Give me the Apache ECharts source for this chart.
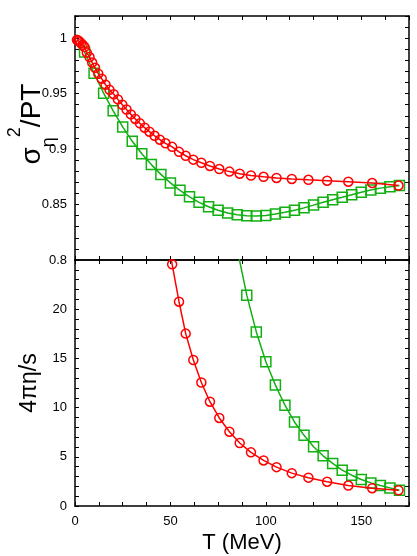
<!DOCTYPE html>
<html>
<head>
<meta charset="utf-8">
<script src="https://cdn.jsdelivr.net/npm/echarts@6/dist/echarts.min.js"></script>
<style>
html, body { margin: 0; padding: 0; background: #fff; }
#chart { width: 417px; height: 556px; }
</style>
</head>
<body>
<div id="chart"></div>
<script>
// temperatures (MeV) of the red (circle) points
const redT = [1.0, 1.6, 2.3, 3.1, 4.0, 5.0, 6.2, 7.6, 9.0, 10.5, 12.2, 14.0, 16.0, 18.1,
    20.3, 22.5, 24.8, 27.0, 29.3, 31.6, 34.0, 36.5, 39.0, 41.7, 44.5, 47.4, 50.9, 54.5,
    58.0, 62.0, 66.2, 70.7, 75.6, 80.9, 86.3, 92.2, 98.8, 105.6, 113.6, 122.3, 132.1,
    143.2, 155.7, 169.5]
// sigma_eta^2 / PT, red
const redRatio = [0.9985, 0.998, 0.997, 0.9955, 0.994, 0.992, 0.987, 0.983, 0.978, 0.9733,
    0.968, 0.9635, 0.958, 0.9534, 0.9495, 0.9448, 0.940, 0.9357, 0.9313, 0.9272, 0.9232,
    0.9193, 0.9157, 0.912, 0.9085, 0.9052, 0.902, 0.8975, 0.894, 0.8905, 0.8877, 0.8848,
    0.882, 0.8797, 0.8778, 0.8762, 0.875, 0.874, 0.8731, 0.8723, 0.8715, 0.8706, 0.8694,
    0.8671]
// 4 pi eta / s, red (null = above the panel)
const redEta = [null, null, null, null, null, null, null, null, null, null, null, null, null,
    null, null, null, null, null, null, null, null, null, null, null, null, 28.4, 24.56,
    20.76, 17.52, 14.84, 12.55, 10.6, 8.95, 7.55, 6.4, 5.45, 4.63, 3.95, 3.34, 2.88, 2.47,
    2.08, 1.81, 1.60]

// temperatures of the green (square) points
const greenT = [5, 10, 15, 20, 25, 30, 35, 40, 45, 50, 55, 60, 65, 70, 75, 80, 85, 90, 95,
    100, 105, 110, 115, 120, 125, 130, 135, 140, 145, 150, 155, 160, 165, 170]
const greenRatio = [0.9875, 0.9684, 0.9504, 0.9345, 0.920, 0.907, 0.8958, 0.886, 0.8772,
    0.8695, 0.8628, 0.857, 0.852, 0.848, 0.8448, 0.8423, 0.8407, 0.8398, 0.8396, 0.8402,
    0.8414, 0.843, 0.8449, 0.847, 0.8495, 0.852, 0.8543, 0.8565, 0.8588, 0.861, 0.8632,
    0.8648, 0.866, 0.8671]
const greenEta = [null, null, null, null, null, null, null, null, null, null, null, null,
    null, null, null, null, 26.1, 21.43, 17.69, 14.66, 12.29, 10.24, 8.54, 7.18, 6.02, 5.10,
    4.33, 3.64, 3.13, 2.69, 2.35, 2.08, 1.84, 1.60]

const xTickLabels = [0, 50, 100, 150]
const ratioTickLabels = [0.8, 0.85, 0.9, 0.95, 1]
const etaTickLabels = [0, 5, 10, 15, 20]

const RED = '#ff0000'
const GREEN = '#12b012'
const FONT = 'Liberation Sans'

function pairs(xs, ys) {
    return xs.map((x, i) => [x, ys[i]]).filter(p => p[1] !== null)
}

function near(v, list) {
    return list.some(t => Math.abs(t - v) < 1e-6)
}

function xAxis(gridIndex, position, labels) {
    return {
        type: 'value',
        gridIndex: gridIndex,
        position: position,
        min: 0,
        max: 175,
        interval: 12.5,
        axisLine: { show: true, onZero: false, lineStyle: { color: '#000', width: 1.5 } },
        axisTick: { show: true, inside: true, length: 4, lineStyle: { color: '#000', width: 1 } },
        axisLabel: {
            show: labels,
            color: '#000',
            fontFamily: FONT,
            fontSize: 13,
            margin: 9,
            formatter: v => near(v, xTickLabels) ? String(v) : ''
        },
        splitLine: { show: false }
    }
}

function yAxis(gridIndex, position, min, max, interval, labelList, labels) {
    return {
        type: 'value',
        gridIndex: gridIndex,
        position: position,
        min: min,
        max: max,
        interval: interval,
        axisLine: { show: true, onZero: false, lineStyle: { color: '#000', width: 1.5 } },
        axisTick: { show: true, inside: true, length: 4, lineStyle: { color: '#000', width: 1 } },
        axisLabel: {
            show: labels,
            color: '#000',
            fontFamily: FONT,
            fontSize: 13,
            margin: 8,
            formatter: v => near(v, labelList) ? String(+v.toFixed(2)) : ''
        },
        splitLine: { show: false }
    }
}

function lineSeries(xi, yi, data, color, symbol, size) {
    return {
        type: 'line',
        xAxisIndex: xi,
        yAxisIndex: yi,
        data: data,
        clip: true,
        symbol: symbol,
        symbolSize: size,
        showAllSymbol: true,
        lineStyle: { color: color, width: 1.5 },
        itemStyle: { color: 'rgba(0,0,0,0)', borderColor: color, borderWidth: 1.5 },
        animation: false,
        z: color === RED ? 3 : 2
    }
}

const chart = echarts.init(document.getElementById('chart'))

const xTop = xAxis(0, 'bottom', false)
const xTopMirror = xAxis(0, 'top', false)
const xBottom = xAxis(1, 'bottom', true)
xBottom.name = 'T (MeV)'
xBottom.nameLocation = 'middle'
xBottom.nameGap = 26
xBottom.nameTextStyle = { fontFamily: FONT, fontSize: 22, color: '#000' }
const xBottomMirror = xAxis(1, 'top', false)

const yTop = yAxis(0, 'left', 0.8, 1.02, 0.01, ratioTickLabels, true)
const yTopMirror = yAxis(0, 'right', 0.8, 1.02, 0.01, ratioTickLabels, false)

const yBottom = yAxis(1, 'left', 0, 25, 1, etaTickLabels, true)
yBottom.name = '4πη/s'
yBottom.nameLocation = 'middle'
yBottom.nameRotate = 90
yBottom.nameGap = 19
yBottom.nameTextStyle = { fontFamily: FONT, fontSize: 23, color: '#000' }
const yBottomMirror = yAxis(1, 'right', 0, 25, 1, etaTickLabels, false)

const option = {
    backgroundColor: '#fff',
    animation: false,
    grid: [
        { left: 75, right: 8, top: 16, height: 244, outerBoundsMode: 'none', containLabel: false },
        { left: 75, right: 8, top: 260, height: 246, outerBoundsMode: 'none', containLabel: false }
    ],
    xAxis: [xTop, xTopMirror, xBottom, xBottomMirror],
    yAxis: [yTop, yTopMirror, yBottom, yBottomMirror],
    // upper y title, with subscript and superscript
    graphic: [{
        type: 'text',
        x: 32,
        y: 124,
        rotation: Math.PI / 2,
        style: {
            text: '{s|σ}{sub|η}{sup|2}{s|/PT}',
            align: 'center',
            verticalAlign: 'middle',
            fill: '#000',
            font: '28px "Liberation Sans"',
            rich: {
                s: { fontFamily: FONT, fontSize: 28, lineHeight: 52, fill: '#000' },
                sub: { fontFamily: FONT, fontSize: 18, verticalAlign: 'bottom', fill: '#000' },
                sup: { fontFamily: FONT, fontSize: 18, verticalAlign: 'top', fill: '#000' }
            }
        }
    }],
    series: [
        lineSeries(0, 0, pairs(greenT, greenRatio), GREEN, 'rect', 10),
        lineSeries(0, 0, pairs(redT, redRatio), RED, 'circle', 9),
        lineSeries(2, 2, pairs(greenT, greenEta), GREEN, 'rect', 10),
        lineSeries(2, 2, pairs(redT, redEta), RED, 'circle', 9)
    ]
}

chart.setOption(option)
</script>
</body>
</html>
